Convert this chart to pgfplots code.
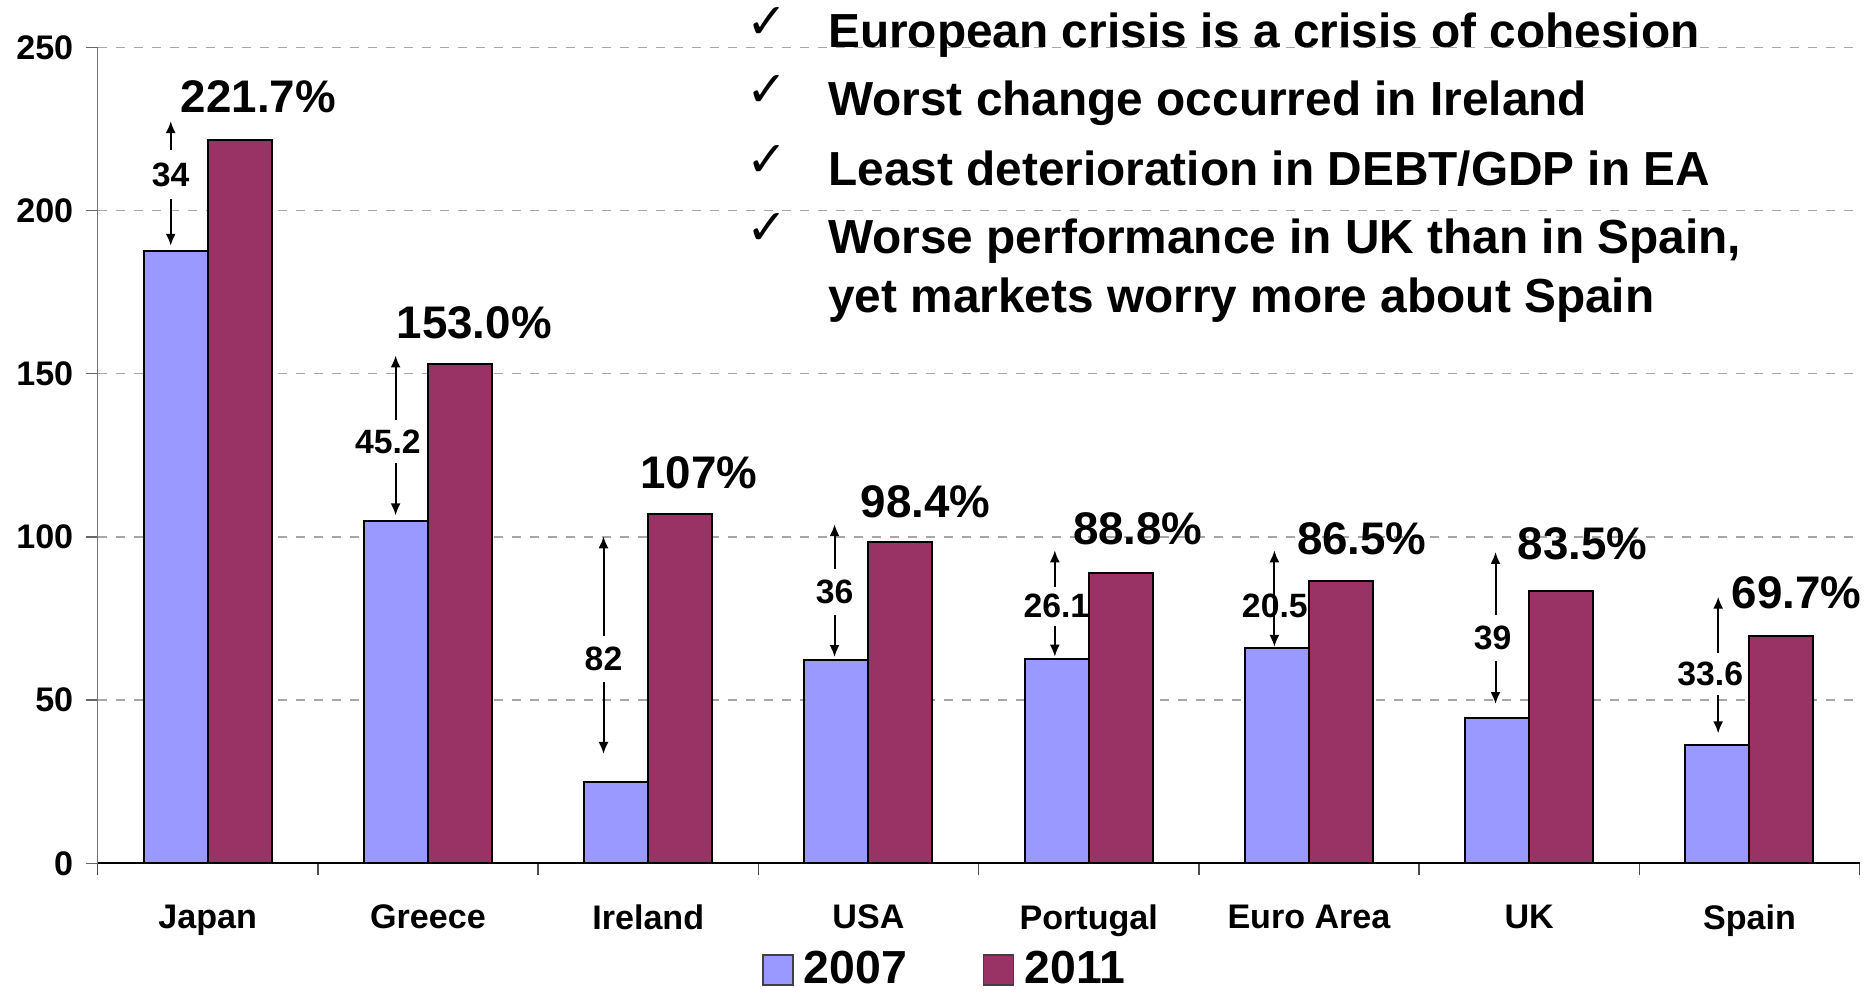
\documentclass[border=0pt]{standalone}
\usepackage{pgfplots}
\pgfplotsset{compat=1.18}
\usepackage{fontspec}
\setmainfont{Liberation Sans}
\newfontfamily\dejavu{DejaVu Sans}
\usetikzlibrary{arrows.meta}
\definecolor{cA}{HTML}{9999FF}
\definecolor{cB}{HTML}{993366}
\pgfplotsset{sqlegend/.style={legend image code/.code={\draw[##1, draw=black!75, line width=0.015cm] (0cm,-0.15cm) rectangle (0.30cm,0.15cm);}}}
\tikzset{har/.style={line width=0.02cm, -{Latex[length=0.12cm,width=0.10cm]}}}
% #1 arrow x, #2 top, #3 bottom, #4 label x, #5 label y, #6 text, #7 gap
\newcommand{\darrow}[7]{%
  \draw[har] (axis cs:#1,#5+#7) -- (axis cs:#1,#2);
  \draw[har] (axis cs:#1,#5-#7) -- (axis cs:#1,#3);
  \node[inner sep=0pt, font=\fontsize{9.6}{11}\selectfont\bfseries] at (axis cs:#4,#5) {#6};}
\newcommand{\pct}[3]{\node[font=\fontsize{13}{15}\selectfont\bfseries] at (axis cs:#1,#2) {#3};}
\newcommand{\bul}[2]{%
  \node[anchor=base west, inner sep=0pt, font=\fontsize{13.6}{16}\selectfont\bfseries] at (7.30,#1) {#2};
  \node[anchor=south, inner sep=0pt, font=\fontsize{14}{16}\dejavu] at (6.70,#1+0.085) {✓};}
\begin{document}
\begin{tikzpicture}
\begin{axis}[
  at={(0,0)}, anchor=south west,
  scale only axis, width=17.62cm, height=8.16cm,
  xmin=-0.5, xmax=7.5, ymin=0, ymax=250,
  axis x line=bottom, axis y line=left,
  x axis line style={-, black, line width=0.02cm},
  y axis line style={-, black!55, line width=0.015cm},
  xtick={0,...,7},
  xticklabels={Japan,Greece,Ireland,USA,Portugal,Euro Area,UK,Spain},
  minor xtick={-0.5,0.5,...,7.5},
  tick align=outside,
  major x tick style={draw=none},
  minor x tick style={black!70, line width=0.015cm},
  minor tick length=0.12cm,
  major tick length=0.12cm,
  ytick={0,50,...,250},
  y tick style={black!60, line width=0.015cm},
  ymajorgrids,
  major grid style={black!35, dash pattern=on 0.09cm off 0.09cm, line width=0.015cm},
  ticklabel style={font=\fontsize{9.7}{11}\selectfont\bfseries},
  /pgf/number format/assume math mode=true,
  xticklabel style={yshift=-0.17cm},
  legend style={at={(0.483,-0.131)}, anchor=center, legend columns=2, draw=none, fill=none,
    font=\fontsize{13.2}{15}\selectfont\bfseries,
    nodes={inner sep=0.1cm},
    /tikz/every even column/.append style={column sep=0.66cm}},
  clip=false,
]
\addplot[ybar, bar width=0.64cm, bar shift=-0.32cm, fill=cA, draw=black, line width=0.02cm, sqlegend]
  coordinates {(0,187.7) (1,105.0) (2,25.0) (3,62.4) (4,62.7) (5,66.0) (6,44.5) (7,36.1)};
\addlegendentry{2007}
\addplot[ybar, bar width=0.64cm, bar shift=0.32cm, fill=cB, draw=black, line width=0.02cm, sqlegend]
  coordinates {(0,221.7) (1,153.0) (2,107.0) (3,98.4) (4,88.8) (5,86.5) (6,83.5) (7,69.7)};
\addlegendentry{2011}
\darrow{-0.168}{227.4}{189.2}{-0.168}{211}{34}{7.5}
\darrow{0.853}{155.6}{106.6}{0.818}{129.2}{45.2}{6.5}
\darrow{1.797}{100.2}{33.5}{1.797}{62.7}{82}{7}
\darrow{2.846}{103.9}{63.2}{2.846}{83.1}{36}{7}
\darrow{3.846}{95.9}{63.3}{3.853}{78.8}{26.1}{6}
\darrow{4.843}{95.9}{66.3}{4.845}{78.8}{20.5}{0}
\darrow{5.847}{95.4}{48.8}{5.834}{69.0}{39}{7}
\darrow{6.858}{81.7}{39.8}{6.822}{58.0}{33.6}{6.5}
\pct{0.230}{235.0}{221.7\%}
\pct{1.21}{165.5}{153.0\%}
\pct{2.23}{119.5}{107\%}
\pct{3.26}{110.8}{98.4\%}
\pct{4.223}{102.4}{88.8\%}
\pct{5.24}{99.3}{86.5\%}
\pct{6.243}{97.8}{83.5\%}
\pct{7.214}{82.9}{69.7\%}
\end{axis}
\bul{8.16}{European crisis is a crisis of cohesion}
\bul{7.48}{Worst change occurred in Ireland}
\bul{6.78}{Least deterioration in DEBT/GDP in EA}
\bul{6.10}{Worse performance in UK than in Spain,}
\node[anchor=base west, inner sep=0pt, font=\fontsize{13.6}{16}\selectfont\bfseries] at (7.30,5.51) {yet markets worry more about Spain};
\pgfresetboundingbox
\path[use as bounding box] (-0.976,-1.287) rectangle (17.694,8.633);
\end{tikzpicture}
\end{document}
